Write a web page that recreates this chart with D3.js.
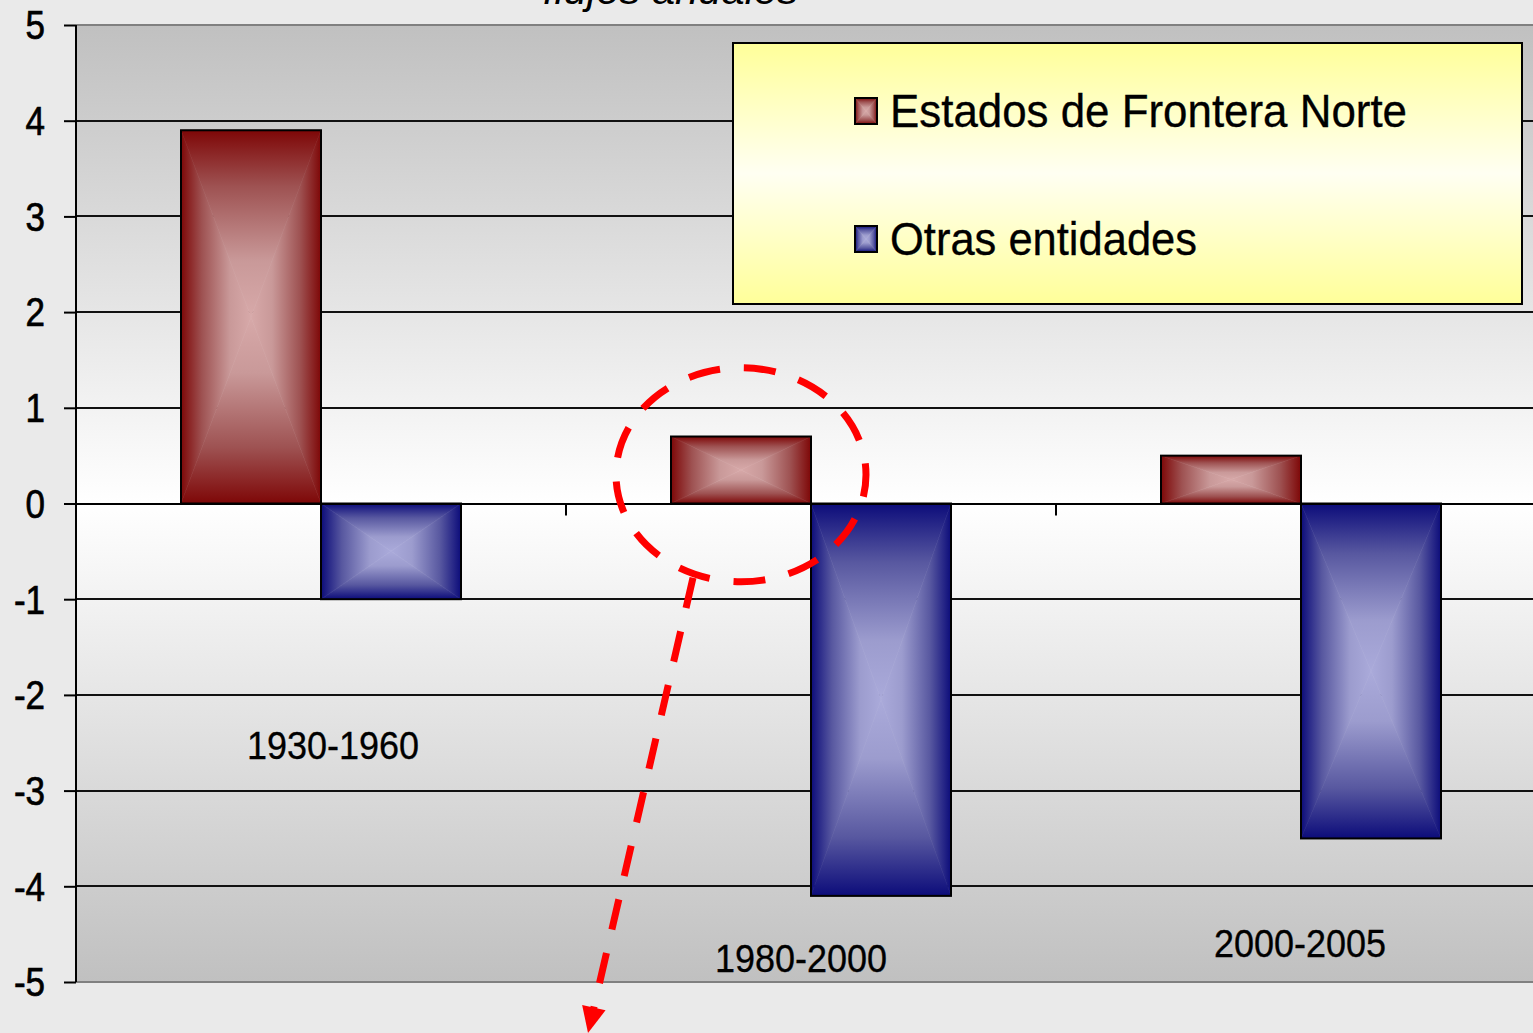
<!DOCTYPE html>
<html>
<head>
<meta charset="utf-8">
<script src="https://cdn.jsdelivr.net/npm/d3@7"></script>
<style>
  html, body { margin: 0; padding: 0; background: #eaeaea; }
  svg { display: block; font-family: "Liberation Sans", Arial, sans-serif; }
</style>
</head>
<body>
<svg id="chart" width="1533" height="1033"></svg>
<script>
// ---- data ----
const categories = ["1930-1960", "1980-2000", "2000-2005"];
const seriesNames = ["Estados de Frontera Norte", "Otras entidades"];
const fronteraNorte = [3.9, 0.7, 0.5];
const otrasEntidades = [-1.0, -4.1, -3.5];
const yTickValues = [-5, -4, -3, -2, -1, 0, 1, 2, 3, 4, 5];
const titleText = "flujos anuales";

// ---- layout (not data) ----
const W = 1533, H = 1033;
const plot = { left: 76, top: 25, right: 1546, bottom: 982 };
const catLabelPos = [ { dx: 12, v: -2.67 }, { dx: -10, v: -4.90 }, { dx: -1, v: -4.74 } ];
const seriesColors = [
  { stops: ["#7e0707", "#9e5252", "#c99999", "#d7a9a9"] },
  { stops: ["#0c0c7a", "#5858a0", "#9c9cce", "#aaaada"] }
];
const stopOffsets = [0, 0.3, 0.7, 1];

const svg = d3.select("#chart");
const defs = svg.append("defs");

// background
svg.append("rect").attr("width", W).attr("height", H).attr("fill", "#eaeaea");

const bgGrad = defs.append("linearGradient").attr("id", "plotBg")
  .attr("x1", 0).attr("y1", 0).attr("x2", 0).attr("y2", 1);
bgGrad.append("stop").attr("offset", 0).attr("stop-color", "#c0c0c0");
bgGrad.append("stop").attr("offset", 0.5).attr("stop-color", "#ffffff");
bgGrad.append("stop").attr("offset", 1).attr("stop-color", "#c0c0c0");

// bevel gradients per series
seriesColors.forEach((c, i) => {
  const dirs = {
    top:    { x1: 0, y1: 0, x2: 0, y2: 1 },
    bottom: { x1: 0, y1: 1, x2: 0, y2: 0 },
    left:   { x1: 0, y1: 0, x2: 1, y2: 0 },
    right:  { x1: 1, y1: 0, x2: 0, y2: 0 }
  };
  Object.entries(dirs).forEach(([k, d]) => {
    const g = defs.append("linearGradient").attr("id", `bev-${i}-${k}`)
      .attr("x1", d.x1).attr("y1", d.y1).attr("x2", d.x2).attr("y2", d.y2);
    c.stops.forEach((col, j) => g.append("stop").attr("offset", stopOffsets[j]).attr("stop-color", col));
  });
});

// scales
const y = d3.scaleLinear().domain([-5, 5]).range([plot.bottom, plot.top]);
const x0 = d3.scaleBand().domain(categories).range([plot.left, plot.right]).paddingInner(0).paddingOuter(0);
const x1 = d3.scaleBand().domain(seriesNames).range([0, x0.bandwidth()]).paddingInner(0).paddingOuter(0.75);

// plot area
svg.append("rect")
  .attr("x", plot.left).attr("y", plot.top)
  .attr("width", plot.right - plot.left).attr("height", plot.bottom - plot.top)
  .attr("fill", "url(#plotBg)");

// gridlines
svg.append("g").selectAll("line").data(yTickValues).join("line")
  .attr("x1", plot.left).attr("x2", plot.right)
  .attr("y1", d => Math.round(y(d))).attr("y2", d => Math.round(y(d)))
  .attr("stroke", d => (d === 5 || d === -5) ? "#808080" : "#111")
  .attr("stroke-width", 2);

// y axis
const yAxis = svg.append("g").attr("transform", `translate(${plot.left},0)`)
  .call(d3.axisLeft(y).tickValues(yTickValues).tickSize(12).tickPadding(19).tickFormat(d => String(d)));
yAxis.select(".domain").attr("stroke", "#000").attr("stroke-width", 2).attr("d", `M0,${plot.top}V${plot.bottom}`);
yAxis.selectAll(".tick line").attr("stroke", "#000").attr("stroke-width", 2);
yAxis.selectAll(".tick text").attr("font-size", 35).attr("fill", "#000")
  .attr("font-family", "'Liberation Sans', Arial, sans-serif").attr("dy", "0.34em")
  .attr("transform", "scale(1,1.16)").attr("stroke", "#000").attr("stroke-width", 0.6);

// category separator ticks on zero line
svg.append("g").selectAll("line").data(categories.slice(1)).join("line")
  .attr("x1", d => x0(d)).attr("x2", d => x0(d))
  .attr("y1", y(0)).attr("y2", y(0) + 12)
  .attr("stroke", "#000").attr("stroke-width", 2);

// bars with bevel
const seriesData = [fronteraNorte, otrasEntidades];
function bevelRect(g, bx, by, bw, bh, si) {
  const cx = bx + bw / 2, cy = by + bh / 2;
  const tris = [
    { k: "top",    p: [[bx, by], [bx + bw, by], [cx, cy]] },
    { k: "bottom", p: [[bx, by + bh], [bx + bw, by + bh], [cx, cy]] },
    { k: "left",   p: [[bx, by], [bx, by + bh], [cx, cy]] },
    { k: "right",  p: [[bx + bw, by], [bx + bw, by + bh], [cx, cy]] }
  ];
  tris.forEach(t => {
    g.append("polygon")
      .attr("points", t.p.map(q => q.join(",")).join(" "))
      .attr("fill", `url(#bev-${si}-${t.k})`)
      .attr("stroke", `url(#bev-${si}-${t.k})`).attr("stroke-width", 0.6);
  });
  g.append("rect").attr("x", bx).attr("y", by).attr("width", bw).attr("height", bh)
    .attr("fill", "none").attr("stroke", "#000").attr("stroke-width", 2);
}

const barsG = svg.append("g");
categories.forEach((cat, ci) => {
  seriesNames.forEach((s, si) => {
    const v = seriesData[si][ci];
    const bx = x0(cat) + x1(s);
    const by = y(Math.max(0, v));
    const bh = Math.abs(y(v) - y(0));
    bevelRect(barsG.append("g"), bx, by, x1.bandwidth(), bh, si);
  });
});

// zero line on top
svg.append("line").attr("x1", plot.left).attr("x2", plot.right)
  .attr("y1", Math.round(y(0))).attr("y2", Math.round(y(0)))
  .attr("stroke", "#000").attr("stroke-width", 2);

// category labels
svg.append("g").selectAll("text").data(categories).join("text")
  .attr("transform", (d, i) => `translate(${x0(d) + x0.bandwidth() / 2 + catLabelPos[i].dx},${y(catLabelPos[i].v)}) scale(1,1.08)`)
  .attr("text-anchor", "middle").attr("font-size", 36).attr("fill", "#000")
  .attr("stroke", "#000").attr("stroke-width", 0.3)
  .text(d => d);

// title (clipped at top, as in the original)
svg.append("text").attr("x", 543).attr("y", 4)
  .attr("font-size", 40).attr("font-style", "italic").attr("fill", "#000")
  .attr("textLength", 255).attr("lengthAdjust", "spacingAndGlyphs")
  .text(titleText);

// legend
const lgGrad = defs.append("linearGradient").attr("id", "lgBg")
  .attr("x1", 0).attr("y1", 0).attr("x2", 0).attr("y2", 1);
lgGrad.append("stop").attr("offset", 0).attr("stop-color", "#ffff99");
lgGrad.append("stop").attr("offset", 0.5).attr("stop-color", "#fffff2");
lgGrad.append("stop").attr("offset", 1).attr("stop-color", "#ffff99");

const lg = svg.append("g");
lg.append("rect").attr("x", 733).attr("y", 43).attr("width", 789).attr("height", 261)
  .attr("fill", "url(#lgBg)").attr("stroke", "#000").attr("stroke-width", 2);
const legendRows = [127, 255];
const legendWidths = [517, 307];
seriesNames.forEach((s, si) => {
  const g = lg.append("g");
  bevelRect(g, 855, legendRows[si] - 29, 22, 26, si);
  g.append("text").attr("transform", `translate(890,${legendRows[si]}) scale(1,1.08)`)
    .attr("font-size", 43).attr("fill", "#000")
    .attr("stroke", "#000").attr("stroke-width", 0.3)
    .attr("textLength", legendWidths[si]).attr("lengthAdjust", "spacingAndGlyphs")
    .text(s);
});

// annotation: dashed ellipse around the 1980-2000 frontera bar, and dashed arrow
const annCx = x0(categories[1]) + x1(seriesNames[0]) + x1.bandwidth() / 2;
const annCy = y(0.3);
svg.append("ellipse").attr("cx", annCx).attr("cy", annCy)
  .attr("rx", 125).attr("ry", 107)
  .attr("fill", "none").attr("stroke", "#ff0000").attr("stroke-width", 7)
  .attr("stroke-dasharray", "32 24").attr("stroke-dashoffset", 10);

const start = [annCx - 48, annCy + 103];
const tip = [588, 1033];
const dx = tip[0] - start[0], dy = tip[1] - start[1];
const len = Math.hypot(dx, dy);
const ux = dx / len, uy = dy / len;
const headLen = 26, headHalf = 12;
const base = [tip[0] - ux * headLen, tip[1] - uy * headLen];
svg.append("line")
  .attr("x1", start[0]).attr("y1", start[1])
  .attr("x2", base[0] + ux * 2).attr("y2", base[1] + uy * 2)
  .attr("stroke", "#ff0000").attr("stroke-width", 7)
  .attr("stroke-dasharray", "31 24");
svg.append("polygon")
  .attr("points", [
    tip,
    [base[0] + uy * headHalf, base[1] - ux * headHalf],
    [base[0] - uy * headHalf, base[1] + ux * headHalf]
  ].map(p => p.join(",")).join(" "))
  .attr("fill", "#ff0000");
</script>
</body>
</html>
